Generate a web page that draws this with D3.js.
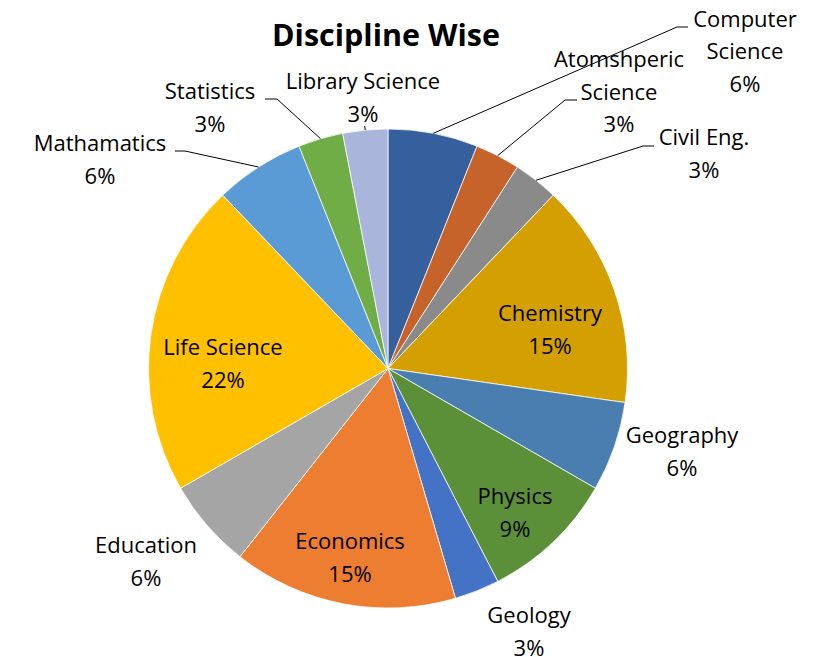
<!DOCTYPE html>
<html lang="en">

<head>
  <meta charset="UTF-8">
  <title>Discipline Wise</title>
  <style>
    body { margin: 0; background: #fff; }
    text { font-family: "Open Sans", Lato, sans-serif; fill: #000; }
  </style>
</head>

<body>

  <script src="https://cdn.jsdelivr.net/npm/d3@7/dist/d3.min.js"></script>
  <script>
    // data
    var disciplines = ["Computer Science", "Atomshperic Science", "Civil Eng.", "Chemistry",
      "Geography", "Physics", "Geology", "Economics", "Education", "Life Science",
      "Mathamatics", "Statistics", "Library Science"];
    var counts = [2, 1, 1, 5, 2, 3, 1, 5, 2, 7, 2, 1, 1];   // slice sizes
    var percentLabels = ["6%", "3%", "3%", "15%", "6%", "9%", "3%", "15%", "6%", "22%", "6%", "3%", "3%"];
    var sliceColors = ["#365F9E", "#C6632A", "#8A8A8A", "#D49F00", "#4A7EB0", "#5B9038",
      "#4472C4", "#ED7D31", "#A5A5A5", "#FFC000", "#5B9BD5", "#70AD47", "#A9B5DA"];

    var width = 817;
    var height = 657;
    var cx = 388, cy = 368.5, radius = 239.5;

    // where each label sits (centre of first line), plus the leader elbow if any
    var labelLayout = {
      "Computer Science": { x: 745, y: 19.5, lines: ["Computer", "Science"], elbow: [677, 27, 688] },
      "Atomshperic Science": { x: 619, y: 60, lines: ["Atomshperic", "Science"], elbow: [565, 100, 577] },
      "Civil Eng.": { x: 704, y: 138, lines: ["Civil Eng."], elbow: [643, 146, 654] },
      "Chemistry": { x: 550, y: 314, lines: ["Chemistry"] },
      "Geography": { x: 682, y: 436, lines: ["Geography"] },
      "Physics": { x: 515, y: 497, lines: ["Physics"] },
      "Geology": { x: 529, y: 616, lines: ["Geology"] },
      "Economics": { x: 350, y: 542, lines: ["Economics"] },
      "Education": { x: 146, y: 546, lines: ["Education"] },
      "Life Science": { x: 223, y: 348, lines: ["Life Science"] },
      "Mathamatics": { x: 100, y: 144, lines: ["Mathamatics"], elbow: [185, 151, 175] },
      "Statistics": { x: 210, y: 92, lines: ["Statistics"], elbow: [277, 99, 265] },
      "Library Science": { x: 363, y: 82, lines: ["Library Science"], tick: 126 }
    };

    var svg = d3.select("body")
      .append("svg")
      .attr("width", width)
      .attr("height", height);

    var data = disciplines.map(function (d, i) {
      return { name: d, value: counts[i], pct: percentLabels[i], color: sliceColors[i] };
    });

    var pie = d3.pie()
      .value(function (d) { return d.value; })
      .sort(null);

    var arc = d3.arc()
      .innerRadius(0)
      .outerRadius(radius);

    var arcs = pie(data);

    var g = svg.append("g")
      .attr("transform", "translate(" + cx + "," + cy + ")");

    g.selectAll("path")
      .data(arcs)
      .enter()
      .append("path")
      .attr("d", arc)
      .style("fill", function (d) { return d.data.color; })
      .style("stroke", "#fff")
      .style("stroke-width", 0.75);

    // point on the rim at the middle of a slice
    function rimPoint(d) {
      var a = (d.startAngle + d.endAngle) / 2;
      return [cx + radius * Math.sin(a), cy - radius * Math.cos(a)];
    }

    // leader lines
    arcs.forEach(function (d) {
      var lay = labelLayout[d.data.name];
      var p = rimPoint(d);
      if (lay.elbow) {
        svg.append("polyline")
          .attr("points", [p, [lay.elbow[0], lay.elbow[1]], [lay.elbow[2], lay.elbow[1]]].join(" "))
          .style("fill", "none")
          .style("stroke", "#000")
          .style("stroke-width", 1);
      } else if (lay.tick) {
        svg.append("line")
          .attr("x1", p[0]).attr("y1", p[1])
          .attr("x2", p[0] - 0.5).attr("y2", lay.tick)
          .style("stroke", "#000")
          .style("stroke-width", 1);
      }
    });

    // labels
    var lineH = 32.5;
    arcs.forEach(function (d) {
      var lay = labelLayout[d.data.name];
      var lines = lay.lines.concat([d.data.pct]);
      var t = svg.append("text")
        .attr("text-anchor", "middle")
        .style("font-size", "22px");
      lines.forEach(function (s, i) {
        t.append("tspan")
          .attr("x", lay.x)
          .attr("y", lay.y + i * lineH)
          .attr("dy", "0.33em")
          .text(s);
      });
    });

    // title
    svg.append("text")
      .attr("x", 386)
      .attr("y", 46)
      .attr("text-anchor", "middle")
      .style("font-size", "30.5px")
      .style("font-weight", "bold")
      .text("Discipline Wise");
  </script>
</body>

</html>
